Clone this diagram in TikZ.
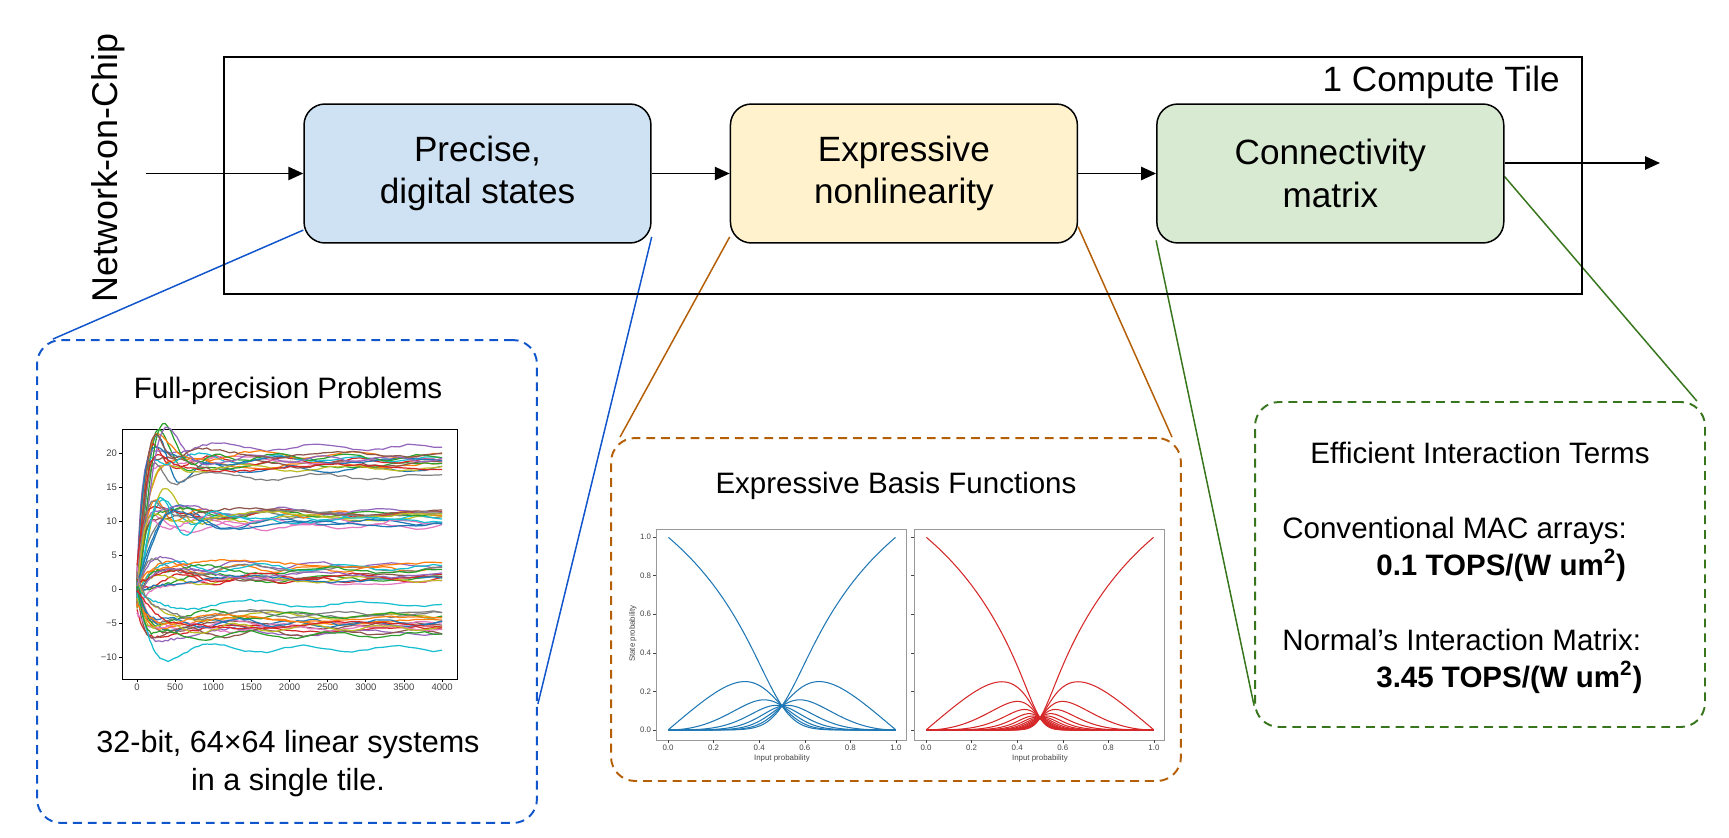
\documentclass[tikz,border=0pt]{standalone}
\usepackage{fontspec}
\setmainfont{Liberation Sans}
\usetikzlibrary{positioning,arrows.meta,backgrounds}

\definecolor{statefill}{HTML}{CFE2F3}
\definecolor{nonlinfill}{HTML}{FFF2CC}
\definecolor{matfill}{HTML}{D9EAD3}
\definecolor{stateline}{HTML}{1155CC}
\definecolor{nonlinline}{HTML}{B45F06}
\definecolor{matline}{HTML}{38761D}
\definecolor{axgray}{HTML}{444444}
\definecolor{framegray}{HTML}{999999}
\definecolor{tab0}{HTML}{1F77B4}
\definecolor{tab1}{HTML}{FF7F0E}
\definecolor{tab2}{HTML}{2CA02C}
\definecolor{tab3}{HTML}{D62728}
\definecolor{tab4}{HTML}{9467BD}
\definecolor{tab5}{HTML}{8C564B}
\definecolor{tab6}{HTML}{E377C2}
\definecolor{tab7}{HTML}{7F7F7F}
\definecolor{tab8}{HTML}{BCBD22}
\definecolor{tab9}{HTML}{17BECF}

\newcommand{\boxfont}{\fontsize{20}{24}\selectfont}
\newcommand{\nocfont}{\fontsize{20.4}{24}\selectfont}
\newcommand{\panelfont}{\fontsize{16.8}{20}\selectfont}
\newcommand{\notefont}{\fontsize{17.4}{21}\selectfont}
\newcommand{\tickfont}{\fontsize{5.4}{6}\selectfont}
\newcommand{\tinyfont}{\fontsize{4.5}{5}\selectfont}

\tikzset{%
block/.style={draw,line width=0.85pt,rounded corners=0.42cm,minimum width=6.94cm,minimum height=2.78cm,align=center,font=\boxfont,inner sep=2pt},
zoombox/.style={draw=#1,line width=1.1pt,rounded corners=0.48cm,dash pattern=on 5pt off 3.4pt,inner sep=0pt},
link/.style={draw=#1,line width=0.85pt},
flow/.style={-{Triangle[length=8.5pt,width=7.5pt]},line width=1.1pt},
txt/.style={inner sep=0pt},
ticklbl/.style={font=\tickfont,text=axgray,inner sep=1pt},
curve/.style={line width=0.6pt},
declare function={ratio(\pp)=\pp/(1-\pp);
  stprob(\pp,\kk,\nn)=pow(ratio(\pp),\kk)*(1-ratio(\pp))/(1-pow(ratio(\pp),\nn));}
}

\begin{document}
\begin{tikzpicture}[x=0.02cm,y=-0.02cm]
\useasboundingbox (0,0) rectangle (1729,838);

% compute tile
\draw[line width=1.1pt] (224,57) rectangle (1582,294);
\node[txt,anchor=base east,font=\boxfont] (tilelbl) at (1560,92) {1 Compute Tile};
\node[txt,font=\nocfont,rotate=90] (noc) at (108,168) {Network-on-Chip};

\node[block,fill=statefill] (prec) at (477.5,173.5) {Precise,\\digital states};
\node[block,fill=nonlinfill,right=1.56cm of prec] (nonlin) {Expressive\\nonlinearity};
\node[block,fill=matfill,right=1.56cm of nonlin] (conn) {Connectivity\\matrix};

\coordinate (nocin) at (146,173.5);
\coordinate (out) at (1660,163);
\draw[flow] (nocin) -- (prec);
\draw[flow] (prec) -- (nonlin);
\draw[flow] (nonlin) -- (conn);
\draw[flow] (conn.east |- out) -- (out);

% zoomed panels
\node[zoombox=stateline,minimum width=10cm,minimum height=9.66cm] (fpbox) at (287,581.5) {};
\node[zoombox=nonlinline,minimum width=11.4cm,minimum height=6.86cm] (basisbox) at (896,609.5) {};
\node[zoombox=matline,minimum width=9cm,minimum height=6.5cm] (termbox) at (1480,564.5) {};

\begin{scope}[on background layer]
\draw[link=stateline] (prec.198.4) -- (fpbox.134.8);
\draw[link=stateline] (prec.-20.8) -- (fpbox.-26.7);
\draw[link=nonlinline] (nonlin.200) -- (basisbox.148.1);
\draw[link=nonlinline] (nonlin.-17.4) -- (basisbox.32.3);
\draw[link=matline] (conn.201.5) -- (termbox.212.3);
\draw[link=matline] (conn.-1) -- (termbox.37.7);
\end{scope}

% full precision panel
\node[txt,font=\panelfont,anchor=base] (fptitle) at (288,398) {Full-precision Problems};
\node[txt,font=\notefont,anchor=base] (fpnote) at (288,752) {32-bit, 64×64 linear systems};
\node[txt,font=\notefont,anchor=base] (fpnotetwo) at (288,790) {in a single tile.};

\begin{scope}[shift={(137,589)},x=0.001525cm,y=0.136cm]
  \draw[line width=0.5pt] (-196.7,-13.24) rectangle (4196.7,23.53);
  \foreach \v/\t in {-10/−10,-5/−5,0/0,5/5,10/10,15/15,20/20}
    \draw[line width=0.4pt] (-196.7,\v) -- ++(-39,0) node[ticklbl,anchor=east] {\t};
  \foreach \v in {0,500,...,4000}
    \draw[line width=0.4pt] (\v,-13.24) -- ++(0,-0.44) node[ticklbl,anchor=north] {\v};
  \pgfmathsetseed{23}
  \foreach \i in {0,...,63}{
    \pgfmathtruncatemacro\ci{mod(\i,10)}
    \pgfmathsetmacro\lvl{\i<16 ? 19.3+1.7*rand : (\i<31 ? 10.2+1.3*rand : (\i<45 ? 2.3+1.4*rand : -5.2+1.6*rand))}
    \ifnum\i=7 \def\lvl{16.5}\fi
    \ifnum\i=49 \def\lvl{-2.2}\fi
    \ifnum\i=59 \def\lvl{-8.8}\fi
    \pgfmathsetmacro\yst{2.5*rand}
    \pgfmathsetmacro\tc{50+450*rnd*rnd}
    \pgfmathsetmacro\om{0.25+0.4*rnd}
    \pgfmathsetmacro\fq{0.12+0.3*rnd}
    \pgfmathsetmacro\ph{360*rnd}
    \draw[color=tab\ci,line width=0.7pt] plot[variable=\s,domain=0:63.25,samples=70]
      ({\s*\s},{(\lvl)-((\lvl)-(\yst))*exp(-\s*\s/\tc)*cos(\om*\s*\s)+(0.3+0.9*exp(-\s*\s/1200))*sin(\fq*\s*\s+\ph)+0.15*rand});
  }
\end{scope}

% basis function panel
\node[txt,font=\panelfont,anchor=base] (basistitle) at (896,493) {Expressive Basis Functions};

\begin{scope}[shift={(668,730)},x=4.56cm,y=3.86cm]
  \draw[framegray,line width=0.5pt] (-0.0526,-0.0518) rectangle (1.048,1.0415);
  \foreach \v in {0.0,0.2,0.4,0.6,0.8,1.0}{
    \draw[axgray,line width=0.3pt] (\v,-0.0518) -- ++(0,-0.0155) node[ticklbl,font=\tinyfont,anchor=north] {\v};
    \draw[axgray,line width=0.3pt] (-0.0526,\v) -- ++(-0.013,0) node[ticklbl,font=\tinyfont,anchor=east] {\v};
  }
  \node[ticklbl,font=\tinyfont] (inleft) at (0.5,-0.145) {Input probability};
  \node[ticklbl,font=\tinyfont,rotate=90] (stleft) at (-0.154,0.5) {State probability};
  \foreach \k in {0,...,7}{
    \draw[curve,tab0] plot[domain=0.002:0.497,samples=40] (\x,{stprob(\x,\k,8)}) -- (0.5,0.125);
    \draw[curve,tab0] plot[domain=0.002:0.497,samples=40] ({1-\x},{stprob(\x,\k,8)}) -- (0.5,0.125);
  }
\end{scope}

\begin{scope}[shift={(926,730)},x=4.56cm,y=3.86cm]
  \draw[framegray,line width=0.5pt] (-0.0526,-0.0518) rectangle (1.048,1.0415);
  \foreach \v in {0.0,0.2,0.4,0.6,0.8,1.0}{
    \draw[axgray,line width=0.3pt] (\v,-0.0518) -- ++(0,-0.0155) node[ticklbl,font=\tinyfont,anchor=north] {\v};
    \draw[axgray,line width=0.3pt] (-0.0526,\v) -- ++(-0.013,0);
  }
  \node[ticklbl,font=\tinyfont] (inright) at (0.5,-0.145) {Input probability};
  \foreach \k in {0,...,15}{
    \draw[curve,tab3] plot[domain=0.002:0.497,samples=40] (\x,{stprob(\x,\k,16)}) -- (0.5,0.0625);
    \draw[curve,tab3] plot[domain=0.002:0.497,samples=40] ({1-\x},{stprob(\x,\k,16)}) -- (0.5,0.0625);
  }
\end{scope}

% interaction terms panel
\node[txt,font=\panelfont,anchor=base] (termtitle) at (1480,463) {Efficient Interaction Terms};
\node[txt,font=\panelfont,anchor=base west] (macconv) at (1282,538) {Conventional MAC arrays:};
\node[txt,font=\panelfont\bfseries,anchor=base west] (macval) at (1376,575) {0.1 TOPS/(W um\textsuperscript{2})};
\node[txt,font=\panelfont,anchor=base west] (normconv) at (1282,650) {Normal’s Interaction Matrix:};
\node[txt,font=\panelfont\bfseries,anchor=base west] (normval) at (1376,687) {3.45 TOPS/(W um\textsuperscript{2})};

\end{tikzpicture}
\end{document}
